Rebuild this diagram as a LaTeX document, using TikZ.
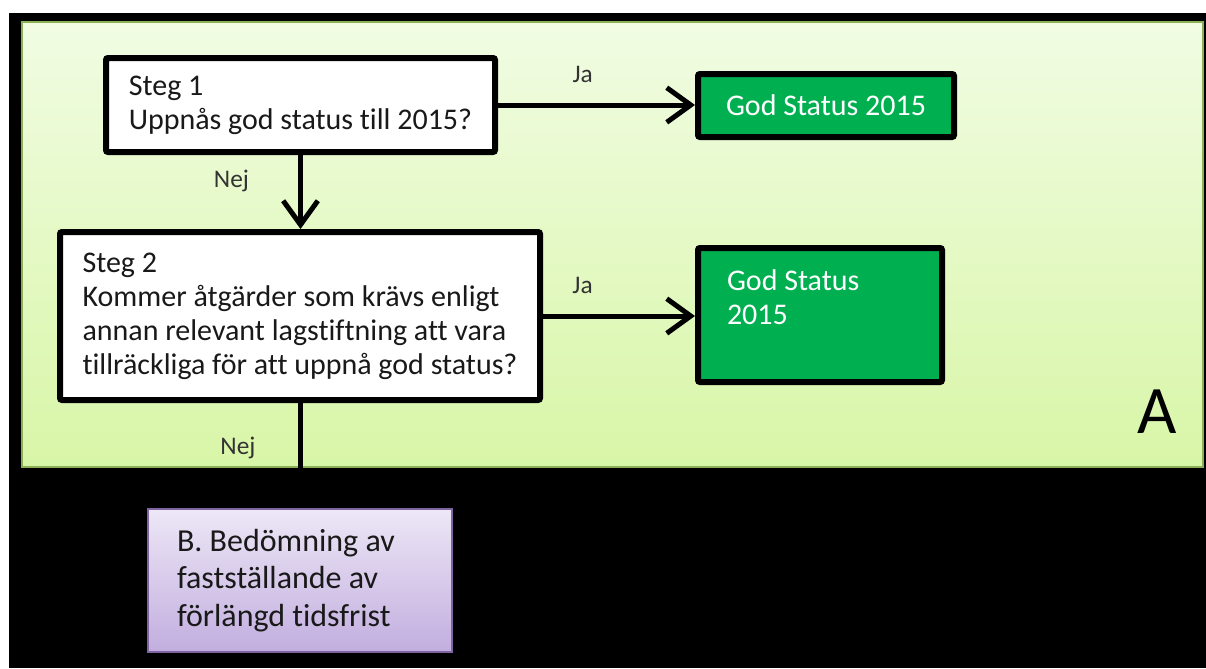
\documentclass[tikz,border=0pt]{standalone}
\usepackage{fontspec}
\setmainfont{Carlito}[Ligatures={NoCommon}]
\usepackage{xcolor}
\usepackage{tikz}
\usetikzlibrary{arrows.meta,positioning}
\definecolor{goodgreen}{HTML}{00B050}
\definecolor{paneltop}{HTML}{F1FCE3}
\definecolor{panelbottom}{HTML}{D8F6A7}
\definecolor{panelborder}{HTML}{8CB056}
\definecolor{nexttop}{HTML}{EDE7F6}
\definecolor{nextbottom}{HTML}{C2AEDF}
\definecolor{nextborder}{HTML}{7F64A2}
\tikzset{
  fc step/.style={
    rectangle,
    rounded corners=1.5pt,
    line width=4.5pt,
    draw=black,
    fill=white,
    align=left,
    text=black!90,
    font=\fontsize{22.5}{25.5}\selectfont,
    inner sep=0pt,
  },
  fc good/.style={
    rectangle,
    rounded corners=1.5pt,
    line width=4.5pt,
    draw=black,
    fill=goodgreen,
    align=flush left,
    text=white,
    font=\fontsize{22.5}{26}\selectfont,
    inner sep=0pt,
  },
  fc next/.style={
    rectangle,
    line width=1.5pt,
    draw=nextborder,
    top color=nexttop,
    bottom color=nextbottom,
    align=flush left,
    text=black!90,
    font=\fontsize{24}{28}\selectfont,
    inner xsep=21.75pt,
    inner ysep=0pt,
  },
  fc label/.style={font=\fontsize{19}{20}\selectfont, text=black!80, inner sep=0pt},
  fc arrow/.style={-{Straight Barb[length=18pt,width=26pt]}, line width=3.75pt, line cap=round, line join=round},
  fc line/.style={line width=3.75pt},
}

\begin{document}
\begin{tikzpicture}[x=0.75pt, y=-0.75pt]
  \useasboundingbox (0,0) rectangle (1206,668);
  % backdrop and the A panel
  \fill[white] (0,0) rectangle (1206,668);
  \fill[black] (9,13) rectangle (1206,668);
  \draw[panelborder, line width=2pt, top color=paneltop, bottom color=panelbottom]
    (22,22) rectangle (1203,467);

  \node[fc step, minimum width=291.75pt, minimum height=70.5pt] (q1) at (300.5,105)
    {Steg 1\\Uppnås god status till 2015?};
  \node[fc step, minimum width=360pt, minimum height=126pt] (q2) at (300,316)
    {Steg 2\\Kommer åtgärder som krävs enligt\\annan relevant lagstiftning att vara\\tillräckliga för att uppnå god status?};
  \node[fc good, minimum width=192pt, minimum height=47.25pt] (g1) at (826,105.5)
    {God Status 2015};
  \node[fc good, text width=139.5pt, inner xsep=21.75pt, inner ysep=12pt,
        text height=19.5pt, text depth=57pt] (g2) at (820,315)
    {God Status\\2015};
  \node[fc next, text width=184.5pt, minimum width=228pt, minimum height=107.25pt] (next) at (300,580.5)
    {B. Bedömning av\\fastställande av\\förlängd tidsfrist};
  \node[font=\fontsize{51}{51}\selectfont] (tagA) at (1157,412) {A};

  % connectors
  \draw[fc arrow] (q1.east) -- node[fc label, above=15pt, pos=0.43] (ja1) {Ja} (q1.east -| g1.west);
  \draw[fc arrow] (q2.east) -- node[fc label, above=15pt, pos=0.26] (ja2) {Ja} (q2.east -| g2.west);
  \draw[fc arrow] (q1.south) -- node[fc label, left=36.75pt, pos=0.35] (nej1) {Nej} (q1.south |- q2.north);
  \draw[fc line] (q2.south) -- node[fc label, left=31.5pt, pos=0.43] (nej2) {Nej} (q2.south |- next.north);
\end{tikzpicture}
\end{document}
